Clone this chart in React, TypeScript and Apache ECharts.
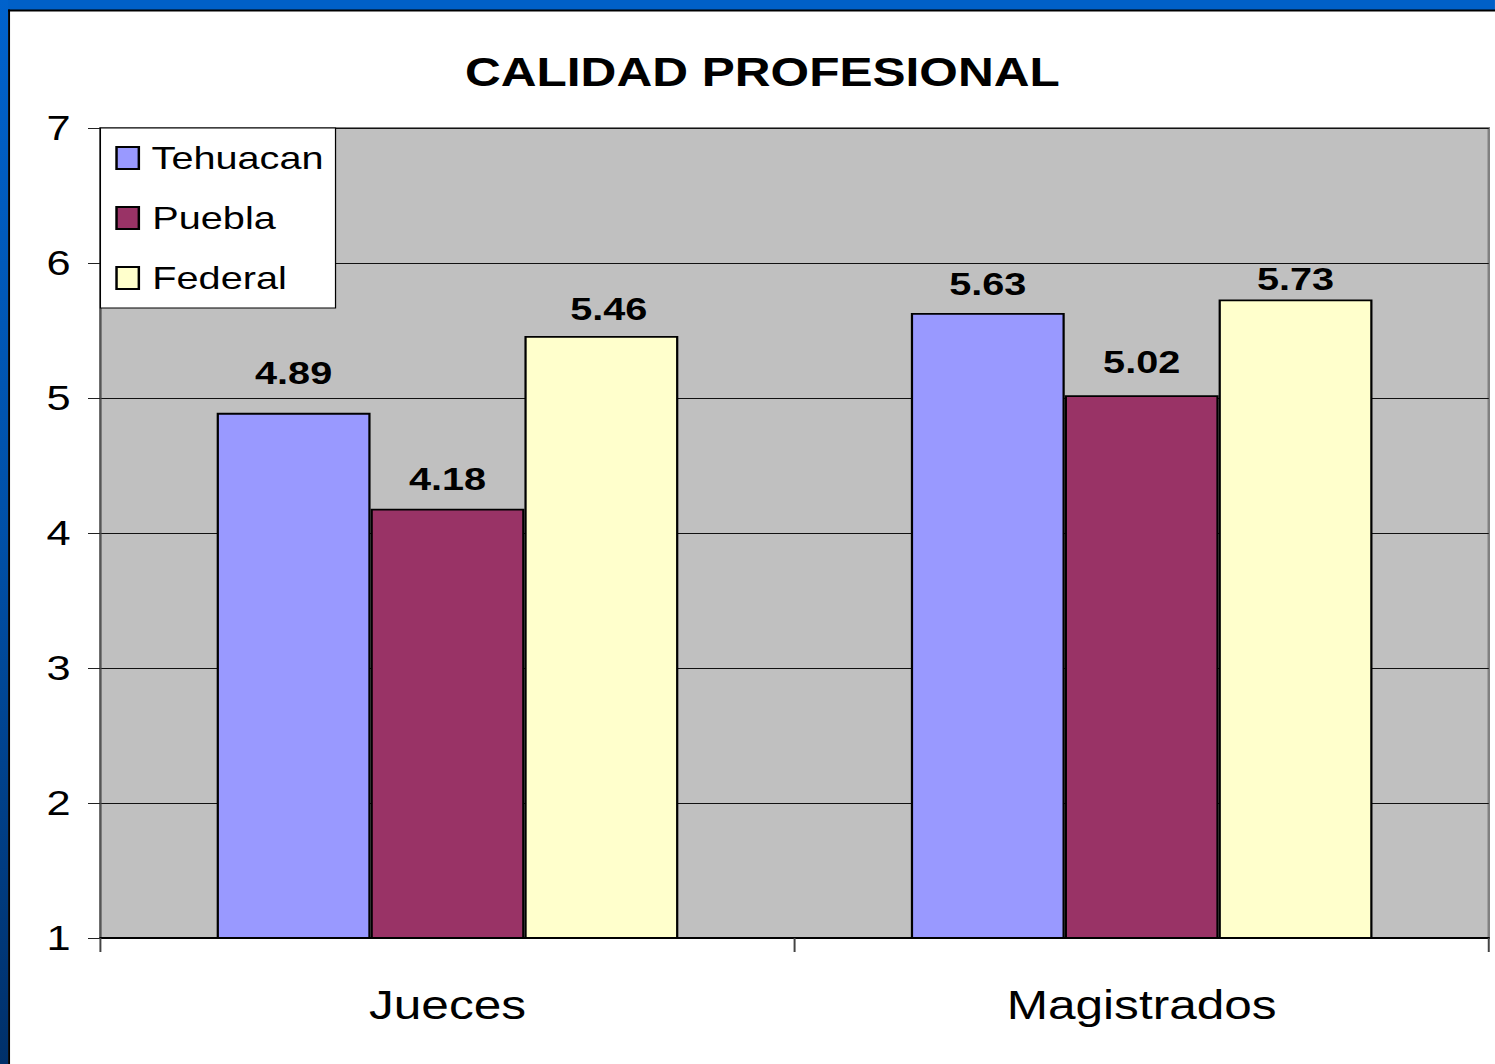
import React, { useEffect, useRef } from "react";
import * as echarts from "echarts";

const categories = ["Jueces", "Magistrados"];
const seriesNames = ["Tehuacan", "Puebla", "Federal"];
const tehuacan = [4.89, 5.63];
const puebla = [4.18, 5.02];
const federal = [5.46, 5.73];
const seriesColors = ["#9999FF", "#993366", "#FFFFCC"];
const titleText = "CALIDAD PROFESIONAL";

// label placement (style only): distance above bar top, horizontal offset
const labelDistances = [
  [24, 13],
  [14, 17],
  [11, 5],
];
const labelOffsetsX = [
  [0, 0],
  [0, 0],
  [6, 0],
];

const STRETCH = 1.2396;
const W = 1206;
const H = 1064;
const FONT = "'Liberation Sans', Arial, sans-serif";

export default function App() {
  const ref = useRef<HTMLDivElement>(null);
  useEffect(() => {
    if (!ref.current) return;
    const chart = echarts.init(ref.current, undefined, { renderer: "svg" });
    const values = [tehuacan, puebla, federal];
    chart.setOption({
      animation: false,
      backgroundColor: "#ffffff",
      textStyle: { fontFamily: FONT },
      title: {
        text: titleText,
        left: 615,
        top: 52,
        textAlign: "center",
        padding: 0,
        textStyle: {
          fontFamily: FONT,
          fontSize: 40,
          fontWeight: "bold",
          color: "#000",
          lineHeight: 40,
        },
      },
      legend: {
        orient: "vertical",
        left: 81,
        top: 128,
        padding: [10, 9, 10, 12],
        itemGap: 20,
        itemWidth: 18,
        itemHeight: 22,
        backgroundColor: "#ffffff",
        borderColor: "#000",
        borderWidth: 1,
        borderRadius: 0,
        icon: "rect",
        formatter: (n: string) => " " + n,
        textStyle: {
          fontFamily: FONT,
          fontSize: 32,
          lineHeight: 40,
          color: "#000",
          padding: [0, 0, 0, -3],
        },
        data: seriesNames,
      },
      grid: {
        left: 81,
        right: 5,
        top: 128,
        bottom: 126,
        show: true,
        backgroundColor: "#C0C0C0",
        borderColor: "#808080",
        borderWidth: 2,
        containLabel: false,
      },
      xAxis: {
        type: "category",
        data: categories,
        axisLine: { show: true, lineStyle: { color: "#000", width: 2 } },
        axisTick: { show: true, length: 14, lineStyle: { color: "#444", width: 1.6 } },
        axisLabel: {
          fontFamily: FONT,
          fontSize: 40,
          color: "#000",
          margin: 47,
          lineHeight: 40,
        },
        splitLine: { show: false },
      },
      yAxis: {
        type: "value",
        min: 1,
        max: 7,
        interval: 1,
        axisLine: { show: true, lineStyle: { color: "#555", width: 1.6 } },
        axisTick: { show: true, length: 10, lineStyle: { color: "#222", width: 1 } },
        axisLabel: {
          fontFamily: FONT,
          fontSize: 35,
          color: "#000",
          margin: 24,
        },
        splitLine: { show: true, lineStyle: { color: "#111", width: 1 } },
      },
      series: seriesNames.map((name, i) => ({
        name,
        type: "bar",
        data: values[i].map((v, j) => ({
          value: v,
          label: {
            distance: labelDistances[i][j],
            offset: [labelOffsetsX[i][j], 0],
          },
        })),
        barGap: "0%",
        barCategoryGap: "33.5%",
        itemStyle: {
          color: seriesColors[i],
          borderColor: "#000",
          borderWidth: 1.8,
        },
        label: {
          show: true,
          position: "top",
          fontFamily: FONT,
          fontSize: 32,
          fontWeight: "bold",
          color: "#000",
          formatter: (p: any) => Number(p.value).toFixed(2),
        },
      })),
      graphic: [
        {
          type: "rect",
          shape: { x: 0, y: 0, width: W, height: 10 },
          style: { fill: "#0060C8" },
          silent: true,
        },
        {
          type: "rect",
          shape: { x: 6.5, y: 9.5, width: W, height: 2 },
          style: { fill: "#000" },
          silent: true,
        },
        {
          type: "rect",
          shape: { x: 0, y: 0, width: 6.5, height: H },
          style: {
            fill: new echarts.graphic.LinearGradient(0, 0, 0, 1, [
              { offset: 0, color: "#0062CC" },
              { offset: 0.5, color: "#0050A8" },
              { offset: 1, color: "#00306A" },
            ]),
          },
          silent: true,
        },
        {
          type: "rect",
          shape: { x: 6.5, y: 9.5, width: 1.6, height: H },
          style: { fill: "#000" },
          silent: true,
        },
      ],
    });
    return () => chart.dispose();
  }, []);
  return (
    <div
      style={{
        position: "absolute",
        left: 0,
        top: 0,
        width: 1495,
        height: H,
        overflow: "hidden",
        background: "#fff",
      }}
    >
      <div
        ref={ref}
        style={{
          width: W,
          height: H,
          transform: `scaleX(${STRETCH})`,
          transformOrigin: "0 0",
        }}
      />
    </div>
  );
}
